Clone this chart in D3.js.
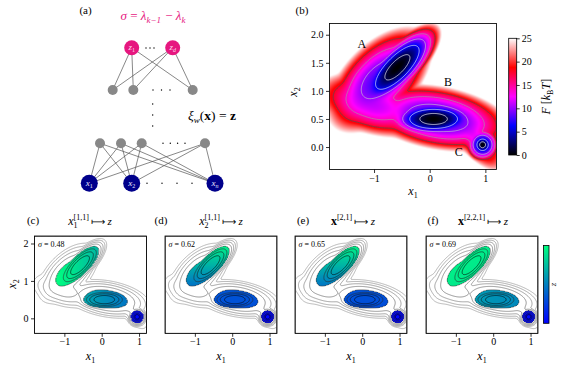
<!DOCTYPE html>
<html><head><meta charset="utf-8">
<script src="https://cdn.jsdelivr.net/npm/d3@7"></script>
<style>
body{margin:0;background:#fff}
svg{display:block}
svg text{font-family:"Liberation Serif","Times New Roman",serif !important; white-space:pre;}
</style>
</head><body>
<svg id="fig" width="563" height="371" font-family="Liberation Serif"></svg>
<script>
// ---------------- DATA ----------------
// Free-energy landscape: quadratic basins combined by a soft minimum (kT units)
const wellName  = ["A core","A skirt","B core","B skirt","C core","C skirt","B-C neck","A-B channel"];
const wellX     = [-0.58, -0.90, 0.07, 0.15, 0.95, 0.95, 0.72, -1.00];
const wellY     = [ 1.42,  1.20, 0.50, 0.52, 0.04, 0.04, 0.30,  0.75];
const wellAngle = [   45,    45,    0,  -10,    0,    0,  -51,   -15];
const wellK1    = [   28,    15,   41,   12,  900,  260,   20,    15];
const wellK2    = [  200,    50,  260,   68,  900,  260,  140,    60];
const wellF0    = [    0,    10,    0,    9,    0,    5,   15,    14];
const energyScale = 0.8;

const xDomain = [-1.8, 1.2];
const yDomain = [-0.4, 2.2];
const xTicks = [-1, 0, 1];
const yTicksB = [0, 0.5, 1, 1.5, 2];
const yTicksC = [0, 1, 2];
const cbTicks = [0, 5, 10, 15, 20, 25];
const cbStops = [0, 6.25, 12.5, 18.75, 25];
const cbColors = ["#000000", "#0000ff", "#ff00ff", "#ff0000", "#ffffff"];

const levelsB = [2, 6, 10, 14, 18];
const levelColorsB = ["#ffffff", "#f0f0f0", "#cccccc", "#a0a0a0", "#505050"];
const levelsSmall = [2.5, 5, 7.5, 10, 12.5, 15, 17.5, 20];
const fillThreshold = 10;

const basinLabels = ["A", "B", "C"];
const basinLabelX = [-1.22, 0.33, 0.52];
const basinLabelY = [1.77, 1.08, -0.16];

// CV panels (c)-(f)
const panelIds    = ["c", "d", "e", "f"];
const panelSigma  = ["0.48", "0.62", "0.65", "0.69"];
const panelSup    = ["[1,1]", "[1,1]", "[2,1]", "[2,2,1]"];
const zA   = [0.84, 0.70, 0.71, 0.92];
const zAgx = [-0.25, 0.00, 0.00, -0.04];
const zAgy = [0.00, 0.45, 0.45, 0.04];
const zB   = [0.56, 0.32, 0.31, 0.57];
const zBgx = [-0.16, 0.00, 0.00, -0.06];
const zBgy = [0.00, 0.05, 0.05, 0.00];
const zC   = [0.03, 0.02, 0.02, 0.03];

const FONT = "Liberation Serif";

// ---------------- FUNCTIONS ----------------
function wellEnergy(k, x, y) {
  const dx = x - wellX[k], dy = y - wellY[k], a = wellAngle[k] * Math.PI / 180;
  const u = dx * Math.cos(a) + dy * Math.sin(a), v = -dx * Math.sin(a) + dy * Math.cos(a);
  return wellF0[k] + wellK1[k] * u * u + wellK2[k] * v * v;
}
function rawF(x, y) {
  const fs = wellX.map((_, k) => wellEnergy(k, x, y));
  const m = d3.min(fs);
  return m - Math.log(d3.sum(fs, f => Math.exp(-(f - m))));
}
const step = 0.0125;
const nx = Math.round((xDomain[1] - xDomain[0]) / step) + 1;
const ny = Math.round((yDomain[1] - yDomain[0]) / step) + 1;
const rawGrid = new Float64Array(nx * ny);
for (let j = 0; j < ny; j++) for (let i = 0; i < nx; i++)
  rawGrid[j * nx + i] = rawF(xDomain[0] + i * step, yDomain[1] - j * step);
const rawMin = d3.min(rawGrid);
const F = (x, y) => energyScale * (rawF(x, y) - rawMin);
const grid = Array.from(rawGrid, v => energyScale * (v - rawMin));

function basinOf(x, y) {
  const e = [wellEnergy(0, x, y), wellEnergy(2, x, y), wellEnergy(4, x, y)];
  return d3.minIndex(e);
}

const colorF = d3.scaleLinear().domain(cbStops).range(cbColors).clamp(true);
const winter = d3.scaleLinear().domain([0, 1]).range(["rgb(0,0,255)", "rgb(0,255,128)"]).clamp(true);

const svg = d3.select("#fig");
const defs = svg.append("defs");

function txt(parent, x, y, s, size, anchor) {
  return parent.append("text").attr("x", x).attr("y", y).attr("text-anchor", anchor || "start")
    .attr("font-family", FONT).style("font-size", size + "px").text(s);
}

// math text helper
function mathText(parent, x, y, parts, opt = {}) {
  const outer = parent.append("g").attr("transform", `translate(${x},${y})${opt.rotate ? ` rotate(${opt.rotate})` : ""}`);
  const g = outer.append("g");
  const size = opt.size || 11;
  let cx = 0;
  const put = (p) => {
    const t = g.append("text").attr("x", cx).attr("y", p.dy || 0)
      .attr("font-family", p.font || FONT)
      .style("font-size", (p.size || size) + "px")
      .style("font-style", p.it ? "italic" : "normal")
      .style("font-weight", p.b ? "bold" : "normal")
      .attr("fill", opt.fill || "#000").text(p.t.replace(/ /g, "\u00a0"));
    return t.node().getComputedTextLength();
  };
  parts.forEach(p => {
    if (p.stack) {
      let w = 0;
      p.stack.forEach(s => { w = Math.max(w, put(s)); });
      cx += w + (p.gap || 0);
    } else {
      cx += put(p) + (p.gap || 0);
    }
  });
  const anchor = opt.anchor || "start";
  const sh = anchor === "middle" ? -cx / 2 : anchor === "end" ? -cx : 0;
  g.attr("transform", `translate(${sh},0)`);
  return outer;
}

function fmtTick(d, dec) {
  const s = dec ? d3.format(".1f")(d) : d3.format("d")(d);
  return s.replace("-", "\u2212");
}
function styleAxis(g) {
  g.select(".domain").remove();
  g.attr("font-family", FONT);
  g.selectAll("text").style("font-size", "10px").attr("font-family", FONT);
  g.selectAll("line").attr("stroke-width", 0.8);
}

// ---------------- PANEL (a) ----------------
const ga = svg.append("g");
txt(ga, 85.5, 14, "(a)", 11, "middle");
const pink = "#e6177f";
mathText(ga, 153, 20, [
  {t: "\u03c3", it: true}, {t: " = "}, {t: "\u03bb", it: true},
  {t: "k\u22121", it: true, size: 9, dy: 3, gap: 1}, {t: " \u2212 "}, {t: "\u03bb", it: true},
  {t: "k", it: true, size: 9, dy: 3}
], {anchor: "middle", size: 13, fill: pink});

const topNodesX = [131.7, 172.7], topY = 47.7;
const hid1X = [112.7, 133.3, 192.7], hid1Y = 90;
const hid2X = [100, 121, 141.7, 205], hid2Y = 143.3;
const inX = [89.3, 131.7, 215], inY = 183.3;
const edges = ga.append("g").attr("stroke", "#555").attr("stroke-width", 0.7);
topNodesX.forEach(a => hid1X.forEach(b => edges.append("line").attr("x1", a).attr("y1", topY).attr("x2", b).attr("y2", hid1Y)));
inX.forEach(a => hid2X.forEach(b => edges.append("line").attr("x1", a).attr("y1", inY).attr("x2", b).attr("y2", hid2Y)));
hid1X.forEach(x => ga.append("circle").attr("cx", x).attr("cy", hid1Y).attr("r", 5).attr("fill", "#888"));
hid2X.forEach(x => ga.append("circle").attr("cx", x).attr("cy", hid2Y).attr("r", 5).attr("fill", "#888"));
topNodesX.forEach((x, i) => {
  ga.append("circle").attr("cx", x).attr("cy", topY).attr("r", 7.5).attr("fill", pink);
  mathText(ga, x, topY + 2.5, [{t: "z", it: true}, {t: i === 0 ? "1" : "d", it: i !== 0, size: 6, dy: 2}], {anchor: "middle", size: 9, fill: "#ffd6ea"});
});
["1", "2", "n"].forEach((s, i) => {
  ga.append("circle").attr("cx", inX[i]).attr("cy", inY).attr("r", 8.5).attr("fill", "#00008b");
  mathText(ga, inX[i], inY + 2.5, [{t: "x", it: true}, {t: s, it: s === "n", size: 6, dy: 2}], {anchor: "middle", size: 9, fill: "#e8e8ff"});
});
const dots = [[146, 48], [150, 48], [154, 48], [153, 90], [161.5, 90], [170, 90],
  [152.7, 104], [152.7, 115], [152.7, 126], [163, 143.3], [170.3, 143.3], [177.6, 143.3], [185, 143.3],
  [147, 183.3], [162, 183.3], [177, 183.3], [192, 183.3]];
dots.forEach(d => ga.append("circle").attr("cx", d[0]).attr("cy", d[1]).attr("r", 0.7).attr("fill", "#000"));
mathText(ga, 188, 119.5, [{t: "\u03be", it: true}, {t: "w", it: true, size: 9, dy: 3}, {t: "("}, {t: "x", b: true}, {t: ") = "}, {t: "z", b: true}], {size: 13.5});

// ---------------- PANEL (b) ----------------
const bx0 = 329.5, bx1 = 496.5, by0 = 23.5, by1 = 169.5;
const xb = d3.scaleLinear().domain(xDomain).range([bx0, bx1]);
const yb = d3.scaleLinear().domain(yDomain).range([by1, by0]);
{
  const W = bx1 - bx0, H = by1 - by0;
  const cv = document.createElement("canvas"); cv.width = W; cv.height = H;
  const ctx = cv.getContext("2d"); const img = ctx.createImageData(W, H);
  for (let py = 0; py < H; py++) for (let px = 0; px < W; px++) {
    const v = F(xb.invert(bx0 + px + 0.5), yb.invert(by0 + py + 0.5));
    const c = d3.rgb(colorF(v)); const o = 4 * (py * W + px);
    img.data[o] = c.r; img.data[o + 1] = c.g; img.data[o + 2] = c.b; img.data[o + 3] = 255;
  }
  ctx.putImageData(img, 0, 0);
  svg.append("image").attr("x", bx0).attr("y", by0).attr("width", W).attr("height", H).attr("href", cv.toDataURL());
}
function contourPath(xs, ys) {
  return d3.geoPath(d3.geoTransform({
    point(x, y) { this.stream.point(xs(xDomain[0] + (x - 0.5) * step), ys(yDomain[1] - (y - 0.5) * step)); }
  }));
}
defs.append("clipPath").attr("id", "clipb").append("rect").attr("x", bx0).attr("y", by0).attr("width", bx1 - bx0).attr("height", by1 - by0);
{
  const cs = d3.contours().size([nx, ny]).thresholds(levelsB)(grid);
  const path = contourPath(xb, yb);
  svg.append("g").attr("clip-path", "url(#clipb)").selectAll("path").data(cs).join("path")
    .attr("d", path).attr("fill", "none").attr("stroke", (d, i) => levelColorsB[i]).attr("stroke-width", 0.7);
}
svg.append("rect").attr("x", bx0).attr("y", by0).attr("width", bx1 - bx0).attr("height", by1 - by0).attr("fill", "none").attr("stroke", "#000").attr("stroke-width", 0.8);
basinLabels.forEach((t, i) => txt(svg, xb(basinLabelX[i]), yb(basinLabelY[i]), t, 12, "middle"));
svg.append("g").attr("transform", `translate(0,${by1})`).call(d3.axisBottom(xb).tickValues(xTicks).tickSize(3.5).tickPadding(1.5).tickFormat(d => fmtTick(d))).call(styleAxis);
svg.append("g").attr("transform", `translate(${bx0},0)`).call(d3.axisLeft(yb).tickValues(yTicksB).tickSize(3.5).tickPadding(2.5).tickFormat(d => fmtTick(d, true))).call(styleAxis);
txt(svg, 302, 14, "(b)", 11, "middle");
mathText(svg, 413, 195, [{t: "x", it: true}, {t: "1", size: 8, dy: 3}], {anchor: "middle", size: 12});
mathText(svg, 297, 92, [{t: "x", it: true}, {t: "2", size: 8, dy: 3}], {anchor: "middle", size: 12, rotate: -90});

// colorbar (b)
{
  const cbx = 508.7, cbw = 8, cby0 = 38.3, cby1 = 155;
  const yc = d3.scaleLinear().domain([0, 25]).range([cby1, cby0]);
  const grad = defs.append("linearGradient").attr("id", "gradF").attr("x1", 0).attr("y1", 1).attr("x2", 0).attr("y2", 0);
  cbStops.forEach((s, i) => grad.append("stop").attr("offset", s / 25).attr("stop-color", cbColors[i]));
  svg.append("rect").attr("x", cbx).attr("y", cby0).attr("width", cbw).attr("height", cby1 - cby0).attr("fill", "url(#gradF)").attr("stroke", "#000").attr("stroke-width", 0.8);
  svg.append("g").attr("transform", `translate(${cbx + cbw},0)`).call(d3.axisRight(yc).tickValues(cbTicks).tickSize(3).tickPadding(2)).call(styleAxis);
  mathText(svg, 550, 96.7, [{t: "F", it: true}, {t: " ["}, {t: "k", it: true}, {t: "B", size: 8, dy: 3}, {t: "T", it: true}, {t: "]"}], {anchor: "middle", size: 12, rotate: -90});
}

// ---------------- PANELS (c)-(f) ----------------
const pX0 = [34.5, 165, 295, 426];
const pW = 112, pY0 = 236, pY1 = 333.3;
const labelX = [33, 161, 303, 433];
const titleX = [90, 221, 353, 483];
panelIds.forEach((id, p) => {
  const x0 = pX0[p], x1 = x0 + pW;
  const xs = d3.scaleLinear().domain(xDomain).range([x0, x1]);
  const ys = d3.scaleLinear().domain(yDomain).range([pY1, pY0]);
  const W = Math.round(pW), H = Math.round(pY1 - pY0);
  const cv = document.createElement("canvas"); cv.width = W; cv.height = H;
  const ctx = cv.getContext("2d"); const img = ctx.createImageData(W, H);
  for (let py = 0; py < H; py++) for (let px = 0; px < W; px++) {
    const x = xs.invert(x0 + px + 0.5), y = ys.invert(pY0 + py + 0.5);
    const v = F(x, y); const o = 4 * (py * W + px);
    if (v < fillThreshold) {
      const b = basinOf(x, y);
      let z;
      if (b === 0) z = zA[p] + zAgx[p] * (x - wellX[0]) + zAgy[p] * (y - wellY[0]);
      else if (b === 1) z = zB[p] + zBgx[p] * (x - wellX[2]) + zBgy[p] * (y - wellY[2]);
      else z = zC[p];
      const c = d3.rgb(winter(z));
      img.data[o] = c.r; img.data[o + 1] = c.g; img.data[o + 2] = c.b; img.data[o + 3] = 255;
    } else { img.data[o + 3] = 0; }
  }
  ctx.putImageData(img, 0, 0);
  svg.append("image").attr("x", x0).attr("y", pY0).attr("width", W).attr("height", H).attr("href", cv.toDataURL());
  defs.append("clipPath").attr("id", "clip" + id).append("rect").attr("x", x0).attr("y", pY0).attr("width", pW).attr("height", pY1 - pY0);
  const cs = d3.contours().size([nx, ny]).thresholds(levelsSmall)(grid);
  const lc = d3.scaleLinear().domain([levelsSmall[0], levelsSmall[3], levelsSmall[levelsSmall.length - 1]]).range(["#000000", "#444444", "#8a8a8a"]);
  svg.append("g").attr("clip-path", `url(#clip${id})`).selectAll("path").data(cs).join("path")
    .attr("d", contourPath(xs, ys)).attr("fill", "none").attr("stroke", d => lc(d.value)).attr("stroke-width", 0.6);
  svg.append("rect").attr("x", x0).attr("y", pY0).attr("width", pW).attr("height", pY1 - pY0).attr("fill", "none").attr("stroke", "#000").attr("stroke-width", 0.8);
  svg.append("g").attr("transform", `translate(0,${pY1})`).call(d3.axisBottom(xs).tickValues(xTicks).tickSize(3.5).tickPadding(1.5).tickFormat(d => fmtTick(d))).call(styleAxis);
  if (p === 0) {
    svg.append("g").attr("transform", `translate(${x0},0)`).call(d3.axisLeft(ys).tickValues(yTicksC).tickSize(3.5).tickPadding(2.5).tickFormat(d => fmtTick(d))).call(styleAxis);
    mathText(svg, 16, 284, [{t: "x", it: true}, {t: "2", size: 8, dy: 3}], {anchor: "middle", size: 12, rotate: -90});
  }
  mathText(svg, (x0 + x1) / 2, 360, [{t: "x", it: true}, {t: "1", size: 8, dy: 3}], {anchor: "middle", size: 12});
  mathText(svg, x0 + 3.5, 247, [{t: "\u03c3", it: true}, {t: " = " + panelSigma[p]}], {size: 8});
  txt(svg, labelX[p], 224, "(" + id + ")", 11, "middle");
  const base = p < 2 ? [{t: "x", it: true, size: 12}] : [{t: "x", b: true, size: 12}];
  const subs = p === 0 ? "1" : p === 1 ? "2" : null;
  const stack = [{t: panelSup[p], size: 8, dy: -5}];
  if (subs) stack.push({t: subs, size: 8, dy: 3});
  mathText(svg, titleX[p], 225, [...base, {stack, gap: 2}, {t: "\u27fc ", font: "DejaVu Sans", size: 10}, {t: "z", it: true}], {anchor: "middle", size: 11});
});
// colorbar (f)
{
  const cbx = 543.5, cbw = 5.5, cby0 = 245.5, cby1 = 323.3;
  const grad = defs.append("linearGradient").attr("id", "gradZ").attr("x1", 0).attr("y1", 1).attr("x2", 0).attr("y2", 0);
  grad.append("stop").attr("offset", 0).attr("stop-color", winter(0));
  grad.append("stop").attr("offset", 1).attr("stop-color", winter(1));
  svg.append("rect").attr("x", cbx).attr("y", cby0).attr("width", cbw).attr("height", cby1 - cby0).attr("fill", "url(#gradZ)").attr("stroke", "#000").attr("stroke-width", 0.8);
  mathText(svg, 556, 284.5, [{t: "z", it: true}], {anchor: "middle", size: 9, rotate: -90});
}
</script>
</body></html>
